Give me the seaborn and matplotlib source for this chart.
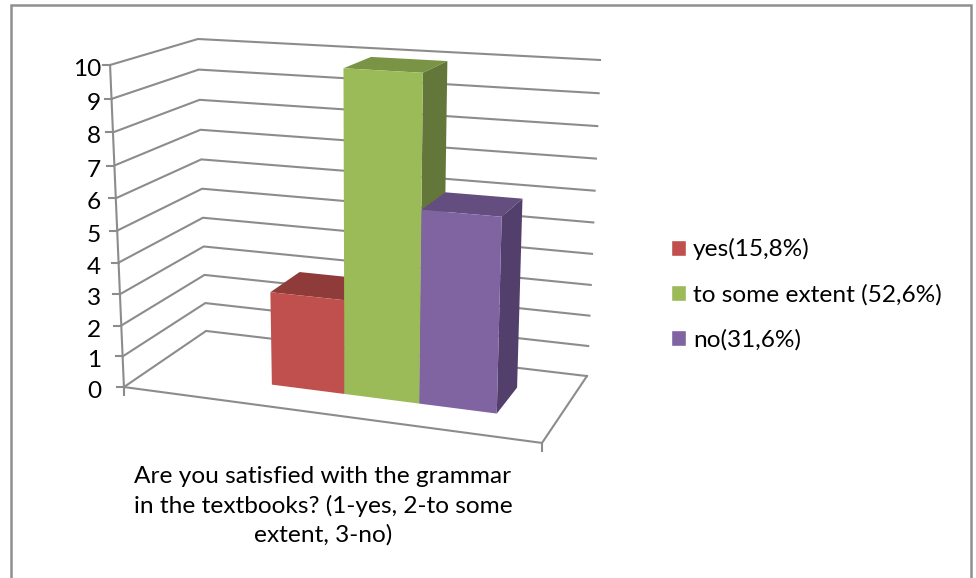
import numpy as np
import matplotlib
matplotlib.use("Agg")
import matplotlib.pyplot as plt
from matplotlib.lines import Line2D
from matplotlib.patches import Polygon
from matplotlib.transforms import Affine2D, Transform
import seaborn as sns

# Survey answers
categories = ["yes(15,8%)", "to some extent (52,6%)", "no(31,6%)"]
counts = [3, 10, 6]
front_colors = ["#c0504d", "#9bbb59", "#8064a2"]
top_colors = ["#8e3b39", "#7a9445", "#644e80"]
side_colors = ["#7a3331", "#64773a", "#533f6b"]
value_ticks = list(range(0, 11))
axis_title = "Are you satisfied with the grammar\nin the textbooks? (1-yes, 2-to some\nextent, 3-no)"

GRID = "#8c8c8c"
FONT_SIZE = 17.6
W, H = 976, 578

# Box corners (u along width, v value, w depth) and where they land on the canvas
box_corners = np.array([[0, 0, 0], [0, 10, 0], [0, 0, 1], [0, 10, 1],
                        [1, 0, 1], [1, 10, 1], [1, 0, 0]], float)
canvas_corners = np.array([[124, 387], [110, 65], [206, 331], [198, 39],
                           [587, 376], [600, 60], [542, 443]], float)


def fit_camera(world, image):
    rows = []
    for (x, y, z), (a, b) in zip(world, image):
        rows.append([x, y, z, 1, 0, 0, 0, 0, -a * x, -a * y, -a * z, -a])
        rows.append([0, 0, 0, 0, x, y, z, 1, -b * x, -b * y, -b * z, -b])
    return np.linalg.svd(np.array(rows))[2][-1].reshape(3, 4)


CAMERA = fit_camera(box_corners, canvas_corners)


def project(u, v, w):
    q = CAMERA @ np.array([u, v, w, 1.0])
    return q[:2] / q[2]


# One absent series occupies the first slot, so the three bars sit right of centre
SLOTS = 4 + 1.5
FIRST_EDGE = 0.75 + 1
DEPTH_FRONT, DEPTH_BACK = 0.3, 0.7


def cat_to_u(x):
    return (np.asarray(x) + 0.5 + FIRST_EDGE) / SLOTS


class PlaneProjection(Transform):
    """Maps (category position, value) on a constant-depth plane to canvas pixels."""
    input_dims = 2
    output_dims = 2
    is_affine = False
    has_inverse = False

    def __init__(self, plane_depth):
        super().__init__()
        self.plane_depth = plane_depth

    def transform_non_affine(self, values):
        values = np.asarray(values, float)
        hom = np.column_stack([cat_to_u(values[:, 0]), values[:, 1],
                               np.full(len(values), self.plane_depth), np.ones(len(values))])
        q = hom @ CAMERA.T
        return q[:, :2] / q[:, 2:3]


sns.set_theme(style="white")
plt.rcParams["font.family"] = ["Lato", "DejaVu Sans"]

fig = plt.figure(figsize=(W / 100, H / 100), dpi=100)
ax = fig.add_axes([0, 0, 1, 1])
canvas = Affine2D().scale(1, -1).translate(0, H)


def line(xs, ys, lw=1.5, color=GRID, z=1):
    ax.add_line(Line2D(xs, ys, transform=canvas, color=color, lw=lw, zorder=z,
                       clip_on=False, solid_capstyle="projecting", solid_joinstyle="miter"))


sns.barplot(x=categories, y=counts, hue=categories, order=categories, hue_order=categories,
            palette=front_colors, saturation=1, width=1.0, dodge=False, legend=True, ax=ax)
handles, labels = ax.get_legend_handles_labels()
ax.set_axis_off()

# Chart frame, open at the bottom edge
line([11, 11, 971, 971], [H + 5, 5, 5, H + 5], lw=1.8, color="#909090")

# Walls and floor
for v in value_ticks:
    p0, p1, p2 = project(0, v, 0), project(0, v, 1), project(1, v, 1)
    line([p0[0], p1[0], p2[0]], [p0[1], p1[1], p2[1]])
    line([p0[0] - 7, p0[0]], [p0[1], p0[1]])
    ax.text(101, p0[1] + 4.5, str(v), transform=canvas, ha="right", va="center",
            fontsize=FONT_SIZE, color="black")

a, b, c, d = project(0, 0, 0), project(1, 0, 0), project(1, 0, 1), project(0, 10, 0)
line([a[0], b[0], c[0]], [a[1], b[1], c[1]])
line([a[0], d[0]], [a[1], d[1]])
line([a[0], a[0]], [a[1], a[1] + 8])
line([b[0], b[0]], [b[1], b[1] + 8])

# Bars: the front faces are the seaborn rectangles, set on the front depth plane
front_plane = PlaneProjection(DEPTH_FRONT) + canvas
bars = [bar for container in ax.containers for bar in container]
for i, bar in enumerate(bars):
    bar.set_transform(front_plane)
    bar.set_clip_on(False)
    bar.set_edgecolor("none")
    bar.set_zorder(3 + i)
    x0, x1, h = bar.get_x(), bar.get_x() + bar.get_width(), bar.get_height()
    u0, u1 = cat_to_u(x0), cat_to_u(x1)
    top = [project(u0, h, DEPTH_FRONT), project(u1, h, DEPTH_FRONT),
           project(u1, h, DEPTH_BACK), project(u0, h, DEPTH_BACK)]
    side = [project(u1, 0, DEPTH_FRONT), project(u1, h, DEPTH_FRONT),
            project(u1, h, DEPTH_BACK), project(u1, 0, DEPTH_BACK)]
    ax.add_patch(Polygon(top, closed=True, transform=canvas, facecolor=top_colors[i],
                         edgecolor="none", zorder=3 + i - 0.1, clip_on=False))
    ax.add_patch(Polygon(side, closed=True, transform=canvas, facecolor=side_colors[i],
                         edgecolor="none", zorder=3 + i - 0.1, clip_on=False))

ax.text(323, 506, axis_title, transform=canvas, ha="center", va="center",
        fontsize=FONT_SIZE, color="black", linespacing=1.43)

ax.legend(handles, labels, loc="center left", bbox_to_anchor=(671 / W, 1 - 294.5 / H),
          bbox_transform=fig.transFigure, frameon=False, fontsize=FONT_SIZE, borderpad=0,
          borderaxespad=0, handlelength=0.61, handleheight=0.61, handletextpad=0.29,
          labelspacing=0.97, labelcolor="black")

fig.savefig("out.png", dpi=100, facecolor="white")
